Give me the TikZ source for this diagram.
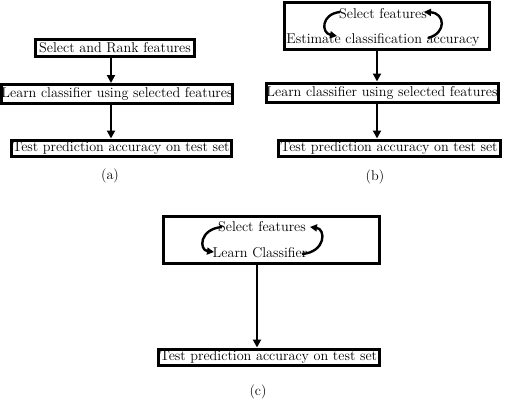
\documentclass[tikz,border=0pt]{standalone}
\usetikzlibrary{arrows.meta}
\begin{document}
\begin{tikzpicture}[x=1pt,y=-1pt,
  box/.style={draw,line width=3pt,inner sep=0pt,rectangle},
  txt/.style={inner sep=0pt},
  arr/.style={line width=2.4pt,-{Triangle[length=8pt,width=8pt]}},
  loop/.style={line width=2.4pt,-{Triangle[length=7pt,width=7pt]}},
  every node/.style={font=\fontsize{14.2}{16}\selectfont}]
\useasboundingbox (0,0) rectangle (506,400);
% (a)
\node[box,minimum width=159pt,minimum height=17pt] (a1) at (115,47.5) {Select and Rank features};
\node[box,minimum width=231pt,minimum height=19pt] (a2) at (117,94) {Learn classifier using selected features};
\node[box,minimum width=220pt,minimum height=16pt] (a3) at (121,148) {Test prediction accuracy on test set};
\coordinate (ax) at (111,0);
\draw[arr] (a1.south -| ax) -- (a2.north -| ax);
\draw[arr] (a2.south -| ax) -- (a3.north -| ax);
\node[txt] (la) at (110,176) {(a)};
% (b)
\node[box,minimum width=205pt,minimum height=47pt] (b1) at (386.5,25.5) {};
\node[txt] (b1s) at (383,14) {Select features};
\node[txt] (b1e) at (383,40) {Estimate classification accuracy};
\node[box,minimum width=232pt,minimum height=19pt] (b2) at (382,92.5) {Learn classifier using selected features};
\node[box,minimum width=222pt,minimum height=16pt] (b3) at (389,148) {Test prediction accuracy on test set};
\coordinate (bx) at (377,0);
\draw[arr] (b1.south -| bx) -- (b2.north -| bx);
\draw[arr] (b2.south -| bx) -- (b3.north -| bx);
\node[txt] (lb) at (375,177) {(b)};
\coordinate (bl1) at (340,12);
\coordinate (bl2) at (337,36);
\coordinate (br1) at (428,38);
\coordinate (br2) at (424,12);
\draw[loop] (bl1) .. controls (321,14) and (321,33) .. (bl2);
\draw[loop] (br1) .. controls (447,33) and (445,13) .. (br2);
% (c)
\node[box,minimum width=216pt,minimum height=47pt] (c1) at (271,239.5) {};
\node[txt] (c1s) at (262,227) {Select features};
\node[txt] (c1l) at (260,253) {Learn Classifier};
\node[box,minimum width=221pt,minimum height=16pt] (c3) at (268.5,357) {Test prediction accuracy on test set};
\coordinate (cx) at (257,0);
\draw[arr] (c1.south -| cx) -- (c3.north -| cx);
\node[txt] (lc) at (258,392) {(c)};
\coordinate (cl1) at (222,227);
\coordinate (cl2) at (214,252);
\coordinate (cr1) at (302,254);
\coordinate (cr2) at (310,227);
\draw[loop] (cl1) .. controls (199,229) and (199,250) .. (cl2);
\draw[loop] (cr1) .. controls (326,252) and (326,229) .. (cr2);
\end{tikzpicture}
\end{document}
